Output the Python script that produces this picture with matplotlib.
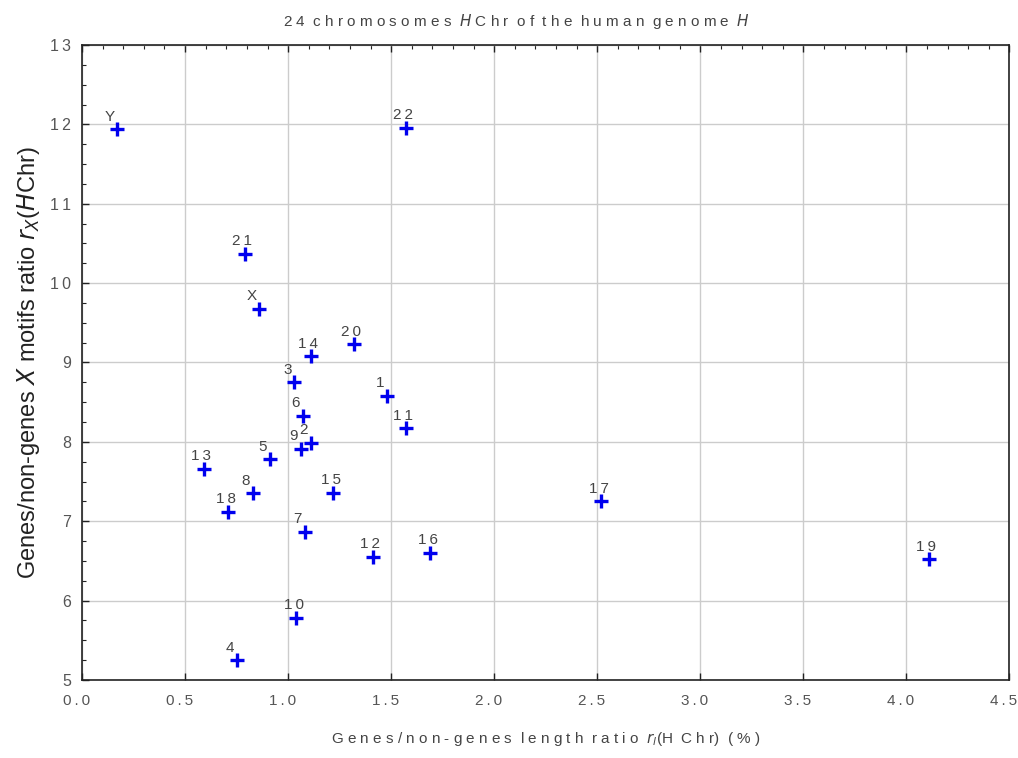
import matplotlib
matplotlib.use("Agg")
import matplotlib.pyplot as plt
from matplotlib.ticker import MultipleLocator, FixedLocator

# chromosome labels and coordinates
names = ["Y", "22", "21", "X", "14", "20", "3", "1", "6", "11", "2", "9",
         "5", "13", "15", "8", "18", "7", "12", "16", "17", "19", "10", "4"]
length_ratio = [0.17, 1.57, 0.79, 0.86, 1.11, 1.32, 1.03, 1.48, 1.07, 1.57, 1.11, 1.06,
                0.91, 0.59, 1.22, 0.83, 0.71, 1.08, 1.41, 1.69, 2.52, 4.11, 1.04, 0.75]
motif_ratio = [11.94, 11.96, 10.37, 9.68, 9.08, 9.23, 8.75, 8.58, 8.33, 8.17, 7.99, 7.91,
               7.78, 7.66, 7.36, 7.35, 7.12, 6.87, 6.55, 6.60, 7.25, 6.52, 5.78, 5.25]

xticks = [0.0, 0.5, 1.0, 1.5, 2.0, 2.5, 3.0, 3.5, 4.0, 4.5]
yticks = [5, 6, 7, 8, 9, 10, 11, 12, 13]

narrow = ["Liberation Sans", "DejaVu Sans"]
grey = "#555555"
sp = "\u2009"  # thin space between the characters, like the spaced-out original


def spaced(s):
    return sp.join(s)


fig = plt.figure(figsize=(10.18, 7.58), dpi=100)
ax = fig.add_axes([0.0806, 0.103, 0.911, 0.8376])

ax.plot(length_ratio, motif_ratio, linestyle="none", marker="+", color="#0000ee",
        markersize=10, markeredgewidth=2.4, zorder=3)

for n, xv, yv in zip(names, length_ratio, motif_ratio):
    ax.annotate(spaced(n), (xv, yv), xytext=(-2, 4), textcoords="offset points",
                ha="right" if len(n) == 1 else "center", va="bottom",
                fontsize=11, color="#444444", family=narrow, zorder=4)

ax.set_xlim(0, 4.5)
ax.set_ylim(5, 13)
ax.xaxis.set_major_locator(FixedLocator(xticks))
ax.yaxis.set_major_locator(FixedLocator(yticks))
ax.xaxis.set_minor_locator(MultipleLocator(0.1))
ax.yaxis.set_minor_locator(MultipleLocator(0.25))
ax.set_yticklabels([spaced(str(v)) for v in yticks], family=narrow, fontsize=11.5, color=grey)

# x tick labels drawn by hand: in the original they sit a little left of their ticks
ax.set_xticklabels([])
for v in xticks:
    ax.annotate(spaced(f"{v:.1f}"), (v, 0), xycoords=("data", "axes fraction"),
                xytext=(-4, -10), textcoords="offset points", ha="center", va="top",
                fontsize=11, color=grey, family=narrow, annotation_clip=False)

ax.grid(True, which="major", color="#cccccc", linewidth=1.0)
ax.set_axisbelow(True)
ax.tick_params(which="both", direction="in", top=True, right=False, colors="#222222")
ax.tick_params(which="major", length=5, width=1, labelcolor=grey, pad=8)
ax.tick_params(which="minor", length=3, width=0.8)
ax.tick_params(axis="x", which="minor", top=True, bottom=False)
for s in ax.spines.values():
    s.set_color("#222222")
    s.set_linewidth(1.2)

ax.set_title("2 4  c h r o m o s o m e s  $\\it{H}$ C h r  o f  t h e  h u m a n  g e n o m e  $\\it{H}$",
             family=narrow, fontsize=11, color="#444444", pad=14, x=0.468)
ax.set_xlabel("G e n e s / n o n - g e n e s  l e n g t h  r a t i o  $r_l$(H  C h r)  ( % )",
              family=narrow, fontsize=11, color="#444444", labelpad=28)
ax.set_ylabel("Genes/non-genes $X$ motifs ratio $r_X$($H$Chr)",
              family=narrow, fontsize=17, color="#222222", labelpad=6)

fig.savefig("out.png", dpi=100, facecolor="white")
